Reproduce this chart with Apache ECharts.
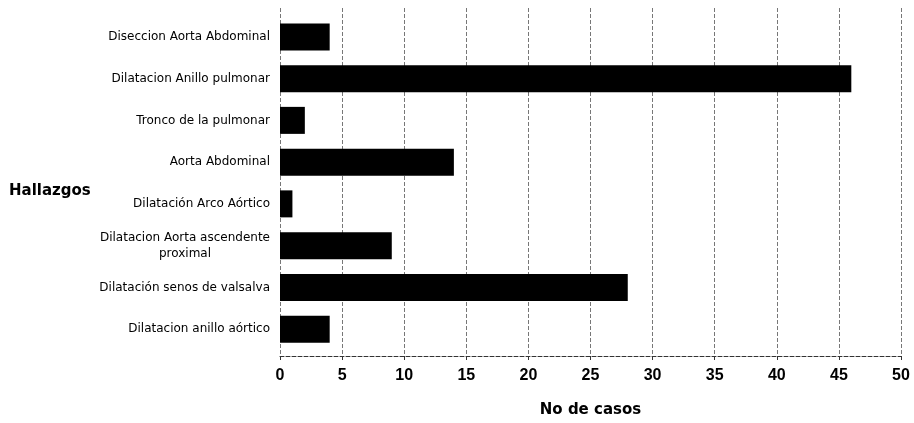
<!DOCTYPE html>
<html>
<head>
<meta charset="utf-8">
<script src="https://cdn.jsdelivr.net/npm/echarts@6/dist/echarts.min.js"></script>
<style>html,body{margin:0;padding:0;background:#fff;}#c{width:914px;height:423px;}</style>
</head>
<body>
<div id="c"></div>
<script>
// Categories listed bottom to top (as drawn on the category axis)
const categories = [
  'Dilatacion anillo aórtico',
  'Dilatación senos de valsalva',
  'Dilatacion Aorta ascendente\nproximal',
  'Dilatación Arco Aórtico',
  'Aorta Abdominal',
  'Tronco de la pulmonar',
  'Dilatacion Anillo pulmonar',
  'Diseccion Aorta Abdominal'
];
const casos = [4, 28, 9, 1, 14, 2, 46, 4];
const xTicks = [0, 5, 10, 15, 20, 25, 30, 35, 40, 45, 50];
const xTitle = 'No de casos';
const yTitle = 'Hallazgos';

const chart = echarts.init(document.getElementById('c'), null, {renderer: 'canvas'});

function catLabel(v) {
  const parts = v.split('\n');
  if (parts.length === 1) return v;
  return parts.map(p => '{c|' + p + '}').join('\n');
}

chart.setOption({
  animation: false,
  backgroundColor: '#fff',
  grid: [
    {left: 280, right: 13, top: 8, bottom: 64},
    {left: 280, right: 13, top: 16, bottom: 73}
  ],
  xAxis: [
    {
      gridIndex: 0, type: 'value',
      min: xTicks[0], max: xTicks[xTicks.length - 1], interval: xTicks[1] - xTicks[0],
      axisLine: {show: true, lineStyle: {color: '#333', width: 1, type: 'dashed'}},
      axisTick: {show: true, length: 4, lineStyle: {color: '#333'}},
      splitLine: {show: true, lineStyle: {color: '#777', width: 1, type: 'dashed'}},
      axisLabel: {color: '#000', fontFamily: 'Liberation Sans', fontWeight: 'bold', fontSize: 16, margin: 12},
      name: xTitle, nameLocation: 'middle', nameGap: 47,
      nameTextStyle: {color: '#000', fontFamily: 'DejaVu Sans', fontWeight: 'bold', fontSize: 15}
    },
    {
      gridIndex: 1, type: 'value',
      min: xTicks[0], max: xTicks[xTicks.length - 1], interval: xTicks[1] - xTicks[0],
      show: false
    }
  ],
  yAxis: [
    {gridIndex: 0, type: 'category', data: categories, show: false},
    {
      gridIndex: 1, type: 'category', data: categories,
      axisLine: {show: false}, axisTick: {show: false}, splitLine: {show: false},
      axisLabel: {
        color: '#000', fontFamily: 'DejaVu Sans', fontSize: 12, margin: 10, lineHeight: 16,
        formatter: catLabel,
        rich: {c: {align: 'center', color: '#000', fontFamily: 'DejaVu Sans', fontSize: 12, lineHeight: 16}}
      }
    }
  ],
  graphic: [
    {type: 'text', left: 9, top: 184,
     style: {text: yTitle, fill: '#000', font: 'bold 15px "DejaVu Sans"'}}
  ],
  series: [
    {
      type: 'bar', xAxisIndex: 1, yAxisIndex: 1,
      data: casos, barWidth: 27,
      itemStyle: {color: '#000'}
    }
  ]
});
</script>
</body>
</html>
